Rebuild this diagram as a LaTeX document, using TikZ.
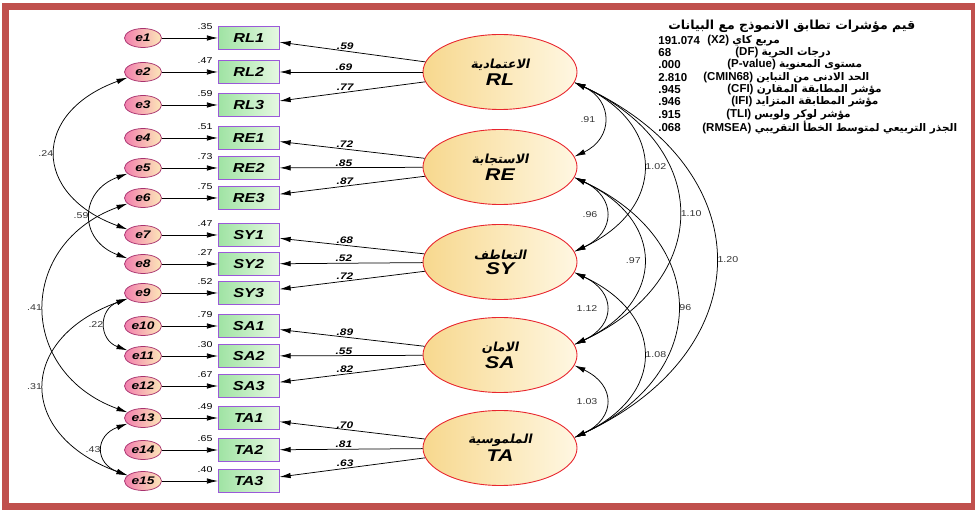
\documentclass[tikz,border=0pt]{standalone}
\usepackage{fontspec}
\setmainfont{Liberation Sans}
\newfontfamily\diagfont[FakeStretch=1.25]{Liberation Sans}
\newfontfamily\arabicbf[Script=Arabic]{DejaVu Sans Bold}
\newfontfamily\arabicit[Script=Arabic,FakeSlant=0.2]{DejaVu Sans Bold}
\TeXXeTstate=1
\usepackage{tikz}
\usetikzlibrary{positioning,arrows.meta,shapes.geometric}
\usepackage{xcolor}
\definecolor{framered}{HTML}{C0504D}
\definecolor{errpink}{HTML}{F27FAE}
\definecolor{erryellow}{HTML}{FCE8B8}
\definecolor{errline}{HTML}{A8326E}
\definecolor{boxgreen}{HTML}{9FE3A3}
\definecolor{boxlight}{HTML}{E6F8E2}
\definecolor{boxline}{HTML}{9B59D9}
\definecolor{latfill}{HTML}{F7D88E}
\definecolor{latlight}{HTML}{FFF7E2}
\definecolor{latline}{HTML}{E8262E}

\begin{document}
\begin{tikzpicture}[x=1pt,y=1pt,node distance=56pt,line width=0.75pt,>={Latex[length=11pt,width=5.5pt]},
    err/.style={draw=errline,ellipse,left color=errpink,right color=erryellow,minimum width=37pt,minimum height=19pt,inner sep=0pt,font=\diagfont\fontsize{11}{13}\selectfont\bfseries\itshape},
    ind/.style={draw=boxline,rectangle,left color=boxgreen,right color=boxlight,minimum width=61pt,minimum height=23pt,inner sep=0pt,font=\diagfont\fontsize{13}{15}\selectfont\bfseries\itshape},
    lat/.style={draw=latline,line width=0.9pt,ellipse,left color=latfill,right color=latlight,minimum width=154pt,minimum height=75pt,inner sep=0pt,align=center},
    sq/.style={font=\diagfont\fontsize{8.5}{10}\selectfont,inner sep=1pt,anchor=east,xshift=-4pt},
    ld/.style={font=\diagfont\fontsize{9.5}{10}\selectfont\bfseries\itshape,pos=0.55,above,inner sep=1pt},
    cv/.style={<->},
    cl/.style={font=\diagfont\fontsize{8.5}{10}\selectfont,text=black!80,inner sep=2pt},
    fitln/.style={anchor=west,font=\fontsize{11.5}{12}\selectfont\bfseries,inner sep=0pt}]
    \useasboundingbox (0,0) rectangle (975,-510);
    \draw[framered,line width=7pt] (5.5,-6.5) rectangle (974,-506.5);

    \node[err] (e1) at (143,-38) {e1};
    \node[ind, right=of e1, label={[sq]north west:.35}] (rl1) {RL1};
    \node[err] (e2) at (143,-72) {e2};
    \node[ind, right=of e2, label={[sq]north west:.47}] (rl2) {RL2};
    \node[err] (e3) at (143,-105) {e3};
    \node[ind, right=of e3, label={[sq]north west:.59}] (rl3) {RL3};
    \node[err] (e4) at (143,-138) {e4};
    \node[ind, right=of e4, label={[sq]north west:.51}] (re1) {RE1};
    \node[err] (e5) at (143,-168) {e5};
    \node[ind, right=of e5, label={[sq]north west:.73}] (re2) {RE2};
    \node[err] (e6) at (143,-198) {e6};
    \node[ind, right=of e6, label={[sq]north west:.75}] (re3) {RE3};
    \node[err] (e7) at (143,-235) {e7};
    \node[ind, right=of e7, label={[sq]north west:.47}] (sy1) {SY1};
    \node[err] (e8) at (143,-264) {e8};
    \node[ind, right=of e8, label={[sq]north west:.27}] (sy2) {SY2};
    \node[err] (e9) at (143,-293) {e9};
    \node[ind, right=of e9, label={[sq]north west:.52}] (sy3) {SY3};
    \node[err] (e10) at (143,-326) {e10};
    \node[ind, right=of e10, label={[sq]north west:.79}] (sa1) {SA1};
    \node[err] (e11) at (143,-356) {e11};
    \node[ind, right=of e11, label={[sq]north west:.30}] (sa2) {SA2};
    \node[err] (e12) at (143,-386) {e12};
    \node[ind, right=of e12, label={[sq]north west:.67}] (sa3) {SA3};
    \node[err] (e13) at (143,-418) {e13};
    \node[ind, right=of e13, label={[sq]north west:.49}] (ta1) {TA1};
    \node[err] (e14) at (143,-450) {e14};
    \node[ind, right=of e14, label={[sq]north west:.65}] (ta2) {TA2};
    \node[err] (e15) at (143,-481) {e15};
    \node[ind, right=of e15, label={[sq]north west:.40}] (ta3) {TA3};

    \node[lat] (rl) at (500,-72) {{\arabicit\fontsize{12.5}{14}\selectfont\beginR الاعتمادية\endR}\\[2pt]{\diagfont\fontsize{17}{19}\selectfont\bfseries\itshape RL}};
    \node[lat] (re) at (500,-167) {{\arabicit\fontsize{12.5}{14}\selectfont\beginR الاستجابة\endR}\\[2pt]{\diagfont\fontsize{17}{19}\selectfont\bfseries\itshape RE}};
    \node[lat] (sy) at (500,-262) {{\arabicit\fontsize{12.5}{14}\selectfont\beginR التعاطف\endR}\\[2pt]{\diagfont\fontsize{17}{19}\selectfont\bfseries\itshape SY}};
    \node[lat] (sa) at (500,-355) {{\arabicit\fontsize{12.5}{14}\selectfont\beginR الامان\endR}\\[2pt]{\diagfont\fontsize{17}{19}\selectfont\bfseries\itshape SA}};
    \node[lat] (ta) at (500,-448) {{\arabicit\fontsize{12.5}{14}\selectfont\beginR الملموسية\endR}\\[2pt]{\diagfont\fontsize{17}{19}\selectfont\bfseries\itshape TA}};

    \draw[->] (e1) -- (rl1);
    \draw[->] (e2) -- (rl2);
    \draw[->] (e3) -- (rl3);
    \draw[->] (e4) -- (re1);
    \draw[->] (e5) -- (re2);
    \draw[->] (e6) -- (re3);
    \draw[->] (e7) -- (sy1);
    \draw[->] (e8) -- (sy2);
    \draw[->] (e9) -- (sy3);
    \draw[->] (e10) -- (sa1);
    \draw[->] (e11) -- (sa2);
    \draw[->] (e12) -- (sa3);
    \draw[->] (e13) -- (ta1);
    \draw[->] (e14) -- (ta2);
    \draw[->] (e15) -- (ta3);

    \draw[->] (rl) -- node[ld] {.59} (rl1);
    \draw[->] (rl) -- node[ld] {.69} (rl2);
    \draw[->] (rl) -- node[ld] {.77} (rl3);
    \draw[->] (re) -- node[ld] {.72} (re1);
    \draw[->] (re) -- node[ld] {.85} (re2);
    \draw[->] (re) -- node[ld] {.87} (re3);
    \draw[->] (sy) -- node[ld] {.68} (sy1);
    \draw[->] (sy) -- node[ld] {.52} (sy2);
    \draw[->] (sy) -- node[ld] {.72} (sy3);
    \draw[->] (sa) -- node[ld] {.89} (sa1);
    \draw[->] (sa) -- node[ld] {.55} (sa2);
    \draw[->] (sa) -- node[ld] {.82} (sa3);
    \draw[->] (ta) -- node[ld] {.70} (ta1);
    \draw[->] (ta) -- node[ld] {.81} (ta2);
    \draw[->] (ta) -- node[ld] {.63} (ta3);

    % error covariances
    \draw[cv] (e2.200) to[out=200,in=160,distance=102pt] node[cl,left] {.24} (e7.160);
    \draw[cv] (e5.200) to[out=200,in=160,distance=52pt] node[cl,left] {.59} (e8.160);
    \draw[cv] (e6.200) to[out=200,in=160,distance=118pt] node[cl,left] {.41} (e13.160);
    \draw[cv] (e9.200) to[out=200,in=160,distance=118pt] node[cl,left] {.31} (e15.160);
    \draw[cv] (e9.200) to[out=200,in=160,distance=31pt] node[cl,left] {.22} (e11.160);
    \draw[cv] (e13.200) to[out=200,in=160,distance=35pt] node[cl,left] {.43} (e15.160);

    % factor covariances
    \draw[cv] (rl.-8) to[out=-25,in=25,distance=43pt] node[cl,left=6pt] {.91} (re.8);
    \draw[cv] (rl.-8) to[out=-25,in=25,distance=101pt] node[cl,right] {1.02} (sy.8);
    \draw[cv] (rl.-8) to[out=-25,in=25,distance=153pt] node[cl,right] {1.10} (sa.8);
    \draw[cv] (rl.-8) to[out=-25,in=25,distance=207pt] node[cl,right] {1.20} (ta.8);
    \draw[cv] (re.-8) to[out=-25,in=25,distance=46pt] node[cl,left=6pt] {.96} (sy.8);
    \draw[cv] (re.-8) to[out=-25,in=25,distance=101pt] node[cl,left] {.97} (sa.8);
    \draw[cv] (re.-8) to[out=-25,in=25,distance=151pt] node[cl,right] {96} (ta.8);
    \draw[cv] (sy.-8) to[out=-25,in=25,distance=46pt] node[cl,left=6pt] {1.12} (sa.8);
    \draw[cv] (sy.-8) to[out=-25,in=25,distance=101pt] node[cl,right] {1.08} (ta.8);
    \draw[cv] (sa.-8) to[out=-25,in=25,distance=46pt] node[cl,left=6pt] {1.03} (ta.8);

    % fit indices
    \node[fitln] (ft) at (668,-26) {\arabicbf\fontsize{12.5}{13}\selectfont\beginR قيم مؤشرات تطابق الانموذج مع البيانات\endR};
    \node[fitln] (v1) at (658,-40.5) {191.074};
    \node[fitln] (t1) at (707,-40.5) {(X2) {\arabicbf\fontsize{10.5}{12}\selectfont\beginR مربع كاي\endR}};
    \node[fitln] (v2) at (658,-53) {68};
    \node[fitln] (t2) at (735,-53) {(DF) {\arabicbf\fontsize{10.5}{12}\selectfont\beginR درجات الحرية\endR}};
    \node[fitln] (v3) at (658,-65) {.000};
    \node[fitln] (t3) at (727,-65) {(P-value) {\arabicbf\fontsize{10.5}{12}\selectfont\beginR مستوى المعنوية\endR}};
    \node[fitln] (v4) at (658,-78) {2.810};
    \node[fitln] (t4) at (703,-78) {(CMIN68) {\arabicbf\fontsize{10.5}{12}\selectfont\beginR الحد الادنى من التباين\endR}};
    \node[fitln] (v5) at (658,-90) {.945};
    \node[fitln] (t5) at (727,-90) {(CFI) {\arabicbf\fontsize{10.5}{12}\selectfont\beginR مؤشر المطابقة المقارن\endR}};
    \node[fitln] (v6) at (658,-102) {.946};
    \node[fitln] (t6) at (731,-102) {(IFI) {\arabicbf\fontsize{10.5}{12}\selectfont\beginR مؤشر المطابقة المتزايد\endR}};
    \node[fitln] (v7) at (658,-115) {.915};
    \node[fitln] (t7) at (726,-115) {(TLI) {\arabicbf\fontsize{10.5}{12}\selectfont\beginR مؤشر لوكر ولويس\endR}};
    \node[fitln] (v8) at (658,-127.5) {.068};
    \node[fitln] (t8) at (702,-127.5) {(RMSEA) {\arabicbf\fontsize{10.5}{12}\selectfont\beginR الجذر التربيعي لمتوسط الخطأ التقريبي\endR}};
  \end{tikzpicture}
\end{document}
